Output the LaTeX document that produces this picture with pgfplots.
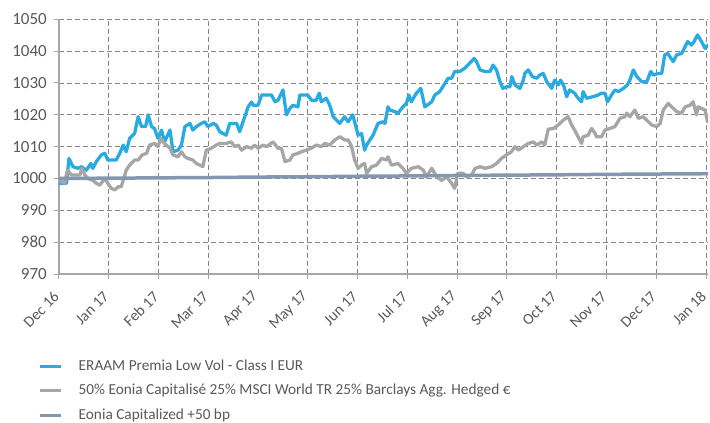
\documentclass[border=0pt]{standalone}
\usepackage{pgfplots}
\pgfplotsset{compat=1.18}
\usepackage{fontspec}
\setmainfont{Carlito}
\definecolor{cblue}{HTML}{29ABE2}
\definecolor{cgrey}{HTML}{A6A6A6}
\definecolor{ceonia}{HTML}{8497B0}
\definecolor{ctext}{HTML}{595959}
\definecolor{cgrid}{HTML}{868686}
\definecolor{caxis}{HTML}{A6A6A6}
\begin{document}
\begin{tikzpicture}
\path[use as bounding box] (0pt,0pt) rectangle (710pt,-423pt);
\begin{axis}[
  at={(59pt,-274pt)}, anchor=south west,
  scale only axis, width=649pt, height=254.7pt,
  xmin=0, xmax=13.04, ymin=970, ymax=1050,
  axis x line=bottom, axis y line=left,
  axis line style={-, color=caxis, line width=1.3pt},
  xtick={0,...,13},
  xticklabels={Dec 16,Jan 17,Feb 17,Mar 17,Apr 17,May 17,Jun 17,Jul 17,Aug 17,Sep 17,Oct 17,Nov 17,Dec 17,Jan 18},
  ytick={970,980,...,1050},
  tick align=outside, major tick length=5pt,
  tick style={color=caxis, line width=1pt},
  grid=major,
  major grid style={color=cgrid, line width=0.9pt, dash pattern=on 5pt off 3pt},
  /pgf/number format/assume math mode=true,
  /pgf/number format/1000 sep={},
  yticklabel style={font=\fontsize{17}{20}\selectfont, text=ctext, inner sep=2pt, xshift=-5pt},
  xticklabel style={font=\fontsize{15.5}{18}\selectfont, text=ctext, xshift=-2.5pt, yshift=-15pt, rotate=45, anchor=east, inner sep=0pt},
  legend style={at={(axis description cs:-0.032,-0.334)}, anchor=north west,
    draw=none, fill=none, inner sep=0pt, outer sep=0pt,
    font=\fontsize{15.3}{18}\selectfont, text=ctext,
    row sep=10pt, column sep=16pt,
    nodes={inner sep=0pt, text height=11pt, text depth=3.5pt, anchor=west}},
  legend cell align=left,
  legend image code/.code={\draw[#1, line cap=butt] (0pt,0pt) -- (21pt,0pt);},
  every axis plot/.append style={line join=round, line cap=round},
]
\addplot[color=cblue, line width=3.3pt] coordinates {
(0.01,998.5)(0.15,998.5)(0.20,1006.3)(0.28,1003.7)(0.38,1003.2)(0.45,1003.7)(0.55,1002.6)(0.64,1004.7)(0.68,1003.2)(0.75,1005.3)
(0.85,1007.4)(0.92,1007.9)(0.98,1005.8)(1.15,1005.8)(1.22,1007.9)(1.29,1010.5)(1.35,1008.4)(1.42,1012.6)(1.52,1014.2)(1.59,1019.4)
(1.66,1016.3)(1.74,1016.3)(1.79,1020)(1.86,1016.3)(1.92,1015.7)(1.99,1012.6)(2.06,1015.2)(2.12,1011.5)(2.23,1015.2)(2.29,1008.4)
(2.39,1008.9)(2.46,1010.5)(2.53,1016.3)(2.63,1017.3)(2.69,1015.2)(2.76,1016.3)(2.86,1017.3)(2.93,1017.8)(2.99,1016.3)(3.10,1017.3)
(3.16,1016.8)(3.23,1014.7)(3.36,1013.6)(3.43,1017.3)(3.57,1017.3)(3.63,1014.7)(3.80,1022.5)(3.87,1024)(3.90,1023)(4.00,1023)
(4.07,1026.2)(4.27,1026.2)(4.34,1024.1)(4.40,1024.6)(4.50,1027.8)(4.57,1020)(4.64,1022)(4.70,1023)(4.80,1022.5)(4.84,1026.2)
(5.00,1026.2)(5.07,1024.6)(5.17,1024.6)(5.23,1026.8)(5.27,1024.1)(5.37,1025.2)(5.44,1023)(5.51,1019.4)(5.64,1017.3)(5.74,1019.4)
(5.81,1017.8)(5.90,1020)(5.94,1017.8)(6.01,1013.6)(6.08,1014.1)(6.14,1008.9)(6.18,1010.5)(6.31,1013.6)(6.41,1017.3)(6.51,1017.8)
(6.55,1017.3)(6.61,1022.5)(6.65,1021.5)(6.75,1021)(6.81,1020.5)(6.91,1022.5)(6.98,1023.6)(7.03,1026.2)(7.08,1024.1)(7.18,1026.8)
(7.27,1028.3)(7.35,1022.5)(7.49,1024.1)(7.55,1026.2)(7.65,1027.3)(7.82,1031.5)(7.89,1031.5)(7.95,1033.6)(8.05,1033.6)(8.15,1034.6)
(8.25,1036.2)(8.34,1037.7)(8.39,1036.7)(8.46,1034.1)(8.56,1033.6)(8.66,1033.6)(8.72,1035.6)(8.79,1034.1)(8.86,1030.4)(8.92,1028.3)
(8.99,1028.8)(9.06,1028.8)(9.10,1032)(9.16,1029.4)(9.26,1028.3)(9.33,1030.9)(9.36,1033)(9.43,1034.1)(9.51,1032)(9.60,1031.5)
(9.66,1032.5)(9.73,1033)(9.80,1030.4)(9.90,1028.3)(9.96,1030.9)(10.03,1029.4)(10.08,1030.9)(10.15,1028.8)(10.20,1025.7)(10.26,1027.8)
(10.36,1026.8)(10.43,1025.2)(10.50,1024.1)(10.53,1027.3)(10.60,1025.2)(10.73,1025.7)(10.83,1026.2)(10.90,1026.8)(10.97,1026.8)(11.02,1024.1)
(11.10,1026.2)(11.17,1027.8)(11.24,1027.3)(11.34,1028.3)(11.42,1029.4)(11.47,1030.9)(11.54,1034.1)(11.61,1032)(11.71,1030.4)(11.81,1030.4)
(11.89,1033.6)(11.94,1032.5)(12.04,1033)(12.11,1033)(12.17,1038.8)(12.23,1039.3)(12.34,1036.7)(12.41,1038.8)(12.51,1039.3)(12.58,1041.4)
(12.63,1043)(12.71,1041.9)(12.76,1043)(12.83,1045.1)(12.91,1043)(12.98,1040.9)(13.04,1041.9)
};
\addlegendentry{ERAAM Premia Low Vol - Class I EUR}
\addplot[color=cgrey, line width=3.3pt] coordinates {
(0.01,999.4)(0.11,998.5)(0.17,1002.6)(0.25,1001.1)(0.42,1001.1)(0.46,1003.2)(0.52,1001.1)(0.58,1000)(0.68,999.4)(0.75,998.5)
(0.82,997.9)(0.92,1000)(0.98,998.5)(1.05,996.9)(1.12,996.4)(1.19,997.4)(1.25,997.4)(1.29,999.4)(1.35,1002.6)(1.42,1004.2)
(1.52,1005.8)(1.59,1005.8)(1.67,1007.4)(1.76,1007.9)(1.82,1010.5)(1.92,1011)(1.99,1010)(2.04,1012.6)(2.12,1011)(2.23,1009.5)
(2.29,1007.4)(2.39,1006.8)(2.46,1008.4)(2.53,1006.8)(2.59,1006.3)(2.69,1005.8)(2.76,1004.7)(2.83,1004.2)(2.89,1003.7)(2.96,1008.9)
(3.06,1009.5)(3.16,1010.5)(3.23,1011)(3.36,1011)(3.46,1011.5)(3.53,1010)(3.60,1010.5)(3.67,1008.9)(3.77,1010)(3.87,1009.5)
(3.93,1010.5)(4.00,1009.5)(4.10,1010.5)(4.17,1010)(4.30,1011.5)(4.40,1009.5)(4.47,1009.5)(4.54,1005.3)(4.64,1005.8)(4.70,1007.4)
(4.80,1007.9)(4.87,1008.4)(4.97,1008.9)(5.07,1009.5)(5.17,1010.5)(5.27,1010)(5.34,1011)(5.44,1010.5)(5.54,1012.1)(5.64,1013.1)
(5.74,1012.1)(5.81,1012.1)(5.88,1010)(5.94,1005.8)(6.01,1003.2)(6.08,1004.2)(6.14,1004.7)(6.18,1001.6)(6.28,1003.7)(6.38,1004.2)
(6.48,1006.3)(6.58,1005.8)(6.61,1006.8)(6.68,1004.2)(6.81,1004.7)(6.91,1003.2)(6.98,1001.6)(7.08,1003.2)(7.22,1003.7)(7.32,1002.6)
(7.38,1000.5)(7.49,1003.2)(7.59,1000.5)(7.69,999.4)(7.79,1000.5)(7.89,998.5)(7.95,996.9)(8.01,1001.6)(8.12,1001.6)(8.19,1000.5)
(8.29,1001.1)(8.36,1003.2)(8.46,1003.7)(8.56,1003.2)(8.69,1003.7)(8.79,1004.7)(8.89,1006.3)(8.99,1007.4)(9.09,1008.4)(9.16,1010)
(9.23,1008.9)(9.33,1010)(9.43,1011)(9.53,1011.5)(9.60,1010.5)(9.70,1011.5)(9.76,1010.5)(9.83,1015.5)(9.93,1015.7)(10.03,1016.8)
(10.13,1018.3)(10.23,1019.4)(10.30,1016.8)(10.36,1015.2)(10.43,1013.1)(10.50,1011)(10.53,1013.1)(10.63,1013.6)(10.70,1015.7)(10.77,1014.2)
(10.80,1013.1)(10.90,1013.1)(10.97,1015.2)(11.07,1015.7)(11.17,1016.3)(11.27,1018.9)(11.37,1019.4)(11.41,1020.5)(11.47,1019.4)(11.57,1021.5)
(11.64,1018.9)(11.74,1019.4)(11.81,1018.3)(11.91,1016.8)(12.01,1016.3)(12.08,1017.3)(12.14,1021.5)(12.24,1023.6)(12.31,1022.5)(12.41,1021)
(12.51,1020.5)(12.58,1022.5)(12.68,1023)(12.74,1024.1)(12.81,1020)(12.84,1022.5)(12.91,1022)(12.98,1021.5)(13.03,1017.8)
};
\addlegendentry{50\% Eonia Capitalisé 25\% MSCI World TR 25\% Barclays Agg. Hedged €}
\addplot[color=ceonia, line width=3.5pt] coordinates {
(0,1000.0)(1,1000.1)(2,1000.2)(3,1000.3)(4,1000.45)(5,1000.55)(6,1000.7)(7,1000.8)(8,1000.95)(9,1001.05)(10,1001.15)(11,1001.3)(12,1001.4)(13.04,1001.5)
};
\addlegendentry{Eonia Capitalized +50 bp}
\end{axis}
\end{tikzpicture}
\end{document}
